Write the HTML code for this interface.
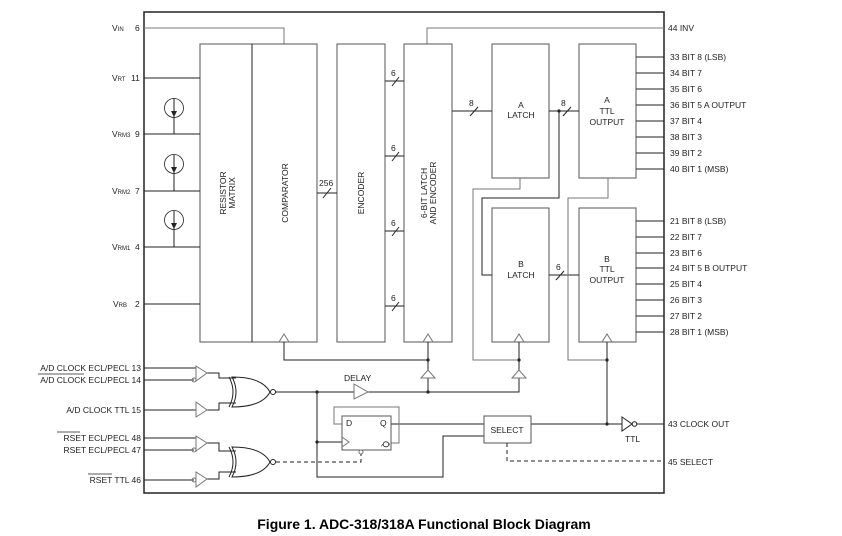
<!DOCTYPE html>
<html><head><meta charset="utf-8"><style>
html,body{margin:0;padding:0;background:#fff;}
svg{display:block;}
text{font-family:"Liberation Sans",sans-serif;font-size:8.5px;fill:#222;}
.b{stroke:#222;stroke-width:1;fill:none;}
.g{stroke:#777;stroke-width:1;fill:none;}
.bx{stroke:#555;stroke-width:1;fill:#fff;}
</style></head><body>
<svg width="842" height="536" viewBox="0 0 842 536" xmlns="http://www.w3.org/2000/svg">
<!-- outer -->
<rect x="144" y="12" width="520" height="481" fill="none" stroke="#222" stroke-width="1.5"/>
<!-- VIN / INV -->
<polyline class="g" points="144,28 284,28 284,44"/>
<polyline class="g" points="427,44 427,28 664,28"/>
<text x="112" y="31">V<tspan font-size="6">IN</tspan></text><text x="135" y="31">6</text>
<text x="668" y="31">44  INV</text>
<!-- blocks -->
<rect class="bx" x="200" y="44" width="52" height="298"/>
<rect class="bx" x="252" y="44" width="65" height="298"/>
<line class="b" x1="252" y1="44" x2="252" y2="342"/>
<rect class="bx" x="337" y="44" width="48" height="298"/>
<rect class="bx" x="404" y="44" width="48" height="298"/>
<rect class="bx" x="492" y="44" width="57" height="134"/>
<rect class="bx" x="579" y="44" width="57" height="134"/>
<rect class="bx" x="492" y="208" width="57" height="134"/>
<rect class="bx" x="579" y="208" width="57" height="134"/>
<text transform="translate(226,193) rotate(-90)" text-anchor="middle">RESISTOR</text>
<text transform="translate(235,193) rotate(-90)" text-anchor="middle">MATRIX</text>
<text transform="translate(288,193) rotate(-90)" text-anchor="middle">COMPARATOR</text>
<text transform="translate(364,193) rotate(-90)" text-anchor="middle">ENCODER</text>
<text transform="translate(427,193) rotate(-90)" text-anchor="middle">6-BIT LATCH</text>
<text transform="translate(436,193) rotate(-90)" text-anchor="middle">AND ENCODER</text>
<text x="521" y="108" text-anchor="middle">A</text><text x="521" y="118" text-anchor="middle">LATCH</text>
<text x="607" y="103" text-anchor="middle">A</text><text x="607" y="114" text-anchor="middle">TTL</text><text x="607" y="125" text-anchor="middle">OUTPUT</text>
<text x="521" y="267" text-anchor="middle">B</text><text x="521" y="278" text-anchor="middle">LATCH</text>
<text x="607" y="262" text-anchor="middle">B</text><text x="607" y="272" text-anchor="middle">TTL</text><text x="607" y="283" text-anchor="middle">OUTPUT</text>
<!-- reference lines -->
<g class="b">
<line x1="144" y1="78" x2="200" y2="78"/><line x1="144" y1="134" x2="200" y2="134"/>
<line x1="144" y1="191" x2="200" y2="191"/><line x1="144" y1="247" x2="200" y2="247"/>
<line x1="144" y1="304" x2="200" y2="304"/>
<line x1="174" y1="98" x2="174" y2="134"/><circle cx="174" cy="108" r="9.5" stroke-width="0.8"/>
<line x1="174" y1="155" x2="174" y2="191"/><circle cx="174" cy="164" r="9.5" stroke-width="0.8"/>
<line x1="174" y1="211" x2="174" y2="247"/><circle cx="174" cy="220" r="9.5" stroke-width="0.8"/>
</g>
<path d="M171,111 L177,111 L174,117Z M171,167 L177,167 L174,173Z M171,223 L177,223 L174,229Z" fill="#222"/>
<text x="112" y="81">V<tspan font-size="6">RT</tspan></text><text x="131" y="81">11</text>
<text x="112" y="137">V<tspan font-size="6">RM3</tspan></text><text x="135" y="137">9</text>
<text x="112" y="194">V<tspan font-size="6">RM2</tspan></text><text x="135" y="194">7</text>
<text x="112" y="250">V<tspan font-size="6">RM1</tspan></text><text x="135" y="250">4</text>
<text x="113" y="307">V<tspan font-size="6">RB</tspan></text><text x="135" y="307">2</text>
<!-- buses -->
<g class="b">
<line x1="317" y1="193" x2="337" y2="193"/><line x1="323" y1="198" x2="331" y2="188"/>
<line x1="385" y1="81" x2="404" y2="81"/><line x1="392" y1="86" x2="399" y2="77"/>
<line x1="385" y1="156" x2="404" y2="156"/><line x1="392" y1="161" x2="399" y2="152"/>
<line x1="385" y1="231" x2="404" y2="231"/><line x1="392" y1="236" x2="399" y2="227"/>
<line x1="385" y1="306" x2="404" y2="306"/><line x1="392" y1="311" x2="399" y2="302"/>
<line x1="452" y1="111" x2="492" y2="111"/><line x1="470" y1="116" x2="478" y2="107"/>
<line x1="549" y1="111" x2="579" y2="111"/><line x1="563" y1="116" x2="571" y2="107"/>
<line x1="549" y1="275" x2="579" y2="275"/><line x1="556" y1="280" x2="564" y2="271"/>
<polyline points="559,111 559,198 482,198 482,275 492,275"/>
</g>
<circle cx="559" cy="111" r="1.6" fill="#222"/>
<text x="319" y="186">256</text>
<text x="391" y="76">6</text><text x="391" y="151">6</text><text x="391" y="226">6</text><text x="391" y="301">6</text>
<text x="469" y="106">8</text><text x="561" y="106">8</text><text x="556" y="270">6</text>
<polyline class="g" points="520,178 520,189 473,189 473,360 519,360"/>
<polyline class="g" points="608,178 608,198 568,198 568,360 607,360"/>
<!-- outputs -->
<g class="b">
<line x1="636" y1="57" x2="664" y2="57"/><line x1="636" y1="73" x2="664" y2="73"/>
<line x1="636" y1="89" x2="664" y2="89"/><line x1="636" y1="105" x2="664" y2="105"/>
<line x1="636" y1="121" x2="664" y2="121"/><line x1="636" y1="137" x2="664" y2="137"/>
<line x1="636" y1="153" x2="664" y2="153"/><line x1="636" y1="169" x2="664" y2="169"/>
<line x1="636" y1="221" x2="664" y2="221"/><line x1="636" y1="237" x2="664" y2="237"/>
<line x1="636" y1="253" x2="664" y2="253"/><line x1="636" y1="268" x2="664" y2="268"/>
<line x1="636" y1="284" x2="664" y2="284"/><line x1="636" y1="300" x2="664" y2="300"/>
<line x1="636" y1="316" x2="664" y2="316"/><line x1="636" y1="332" x2="664" y2="332"/>
</g>
<g>
<text x="670" y="60">33 BIT 8 (LSB)</text><text x="670" y="76">34 BIT 7</text>
<text x="670" y="92">35 BIT 6</text><text x="670" y="108">36 BIT 5   A OUTPUT</text>
<text x="670" y="124">37 BIT 4</text><text x="670" y="140">38 BIT 3</text>
<text x="670" y="156">39 BIT 2</text><text x="670" y="172">40 BIT 1 (MSB)</text>
<text x="670" y="224">21 BIT 8 (LSB)</text><text x="670" y="240">22 BIT 7</text>
<text x="670" y="256">23 BIT 6</text><text x="670" y="271">24 BIT 5   B OUTPUT</text>
<text x="670" y="287">25 BIT 4</text><text x="670" y="303">26 BIT 3</text>
<text x="670" y="319">27 BIT 2</text><text x="670" y="335">28 BIT 1 (MSB)</text>
</g>
<!-- clock triangles at block bottoms -->
<g class="g">
<path d="M279,342 L284,334 L289,342"/><path d="M423,342 L428,334 L433,342"/>
<path d="M514,342 L519,334 L524,342"/><path d="M602,342 L607,334 L612,342"/>
</g>
<g class="b">
<polyline points="284,342 284,360 428,360"/>
<line x1="428" y1="342" x2="428" y2="370"/><line x1="519" y1="342" x2="519" y2="370"/>
<line x1="607" y1="342" x2="607" y2="424"/>
<line x1="428" y1="378" x2="428" y2="392"/>
<polyline points="368,392 519,392 519,378"/>
<polyline points="276,392 354,392"/>
</g>
<g class="g"><path d="M421,378 L428,370 L435,378Z"/><path d="M512,378 L519,370 L526,378Z"/>
<path d="M354,384 L368,392 L354,399Z"/></g>
<g fill="#222"><circle cx="428" cy="360" r="1.6"/><circle cx="519" cy="360" r="1.6"/><circle cx="607" cy="360" r="1.6"/>
<circle cx="428" cy="392" r="1.6"/><circle cx="317" cy="392" r="1.6"/><circle cx="317" cy="442" r="1.6"/><circle cx="607" cy="424" r="1.6"/></g>
<text x="344" y="381">DELAY</text>
<!-- inputs -->
<g class="b">
<line x1="144" y1="368" x2="196" y2="368"/><line x1="144" y1="380" x2="194" y2="380"/>
<line x1="144" y1="410" x2="196" y2="410"/>
<line x1="144" y1="438" x2="196" y2="438"/><line x1="144" y1="450" x2="194" y2="450"/>
<line x1="144" y1="480" x2="194" y2="480"/>
<polyline points="207,373 219,373 219,378 236,378"/><polyline points="207,410 219,410 219,403 236,403"/>
<polyline points="207,443 219,443 219,451 236,451"/><polyline points="207,479 219,479 219,472 236,472"/>
<path d="M232,377 Q262,377 270,392 Q262,407 232,407 Q240,392 232,377Z"/>
<path d="M229,377 Q237,392 229,407"/>
<path d="M232,447 Q262,447 270,462 Q262,477 232,477 Q240,462 232,447Z"/>
<path d="M229,447 Q237,462 229,477"/>
<circle cx="273" cy="392" r="2.5"/><circle cx="273" cy="462" r="2.5"/>
<polyline points="317,392 317,477 443,477 443,436 484,436"/>
<line x1="317" y1="442" x2="342" y2="442"/>
<line x1="391" y1="424" x2="484" y2="424"/>
<line x1="531" y1="424" x2="622" y2="424"/>
<line x1="637" y1="424" x2="664" y2="424"/>
<circle cx="634.5" cy="424" r="2.3"/>
</g>
<g class="g">
<path d="M196,366 L207,373 L196,381Z"/><path d="M196,402 L207,410 L196,417Z"/>
<path d="M196,436 L207,443 L196,451Z"/><path d="M196,472 L207,479 L196,487Z"/>
<circle cx="194" cy="380" r="2"/><circle cx="194" cy="450" r="2"/><circle cx="194" cy="480" r="2"/>
<path d="M622,417 L632,424 L622,431Z" stroke="#222"/>
<polyline points="391,443 399,443 399,407 334,407 334,424 342,424"/>
<rect x="342" y="416" width="49" height="34" fill="none" stroke="#555"/>
<path d="M342,437 L349,442 L342,447"/>
<circle cx="361" cy="452" r="2"/>
<rect x="484" y="416" width="47" height="27" fill="none" stroke="#555"/>
</g>
<g class="b" stroke-dasharray="4,3">
<polyline points="276,462 361,462 361,454"/>
<polyline points="507,443 507,461 664,461"/>
</g>
<text x="346" y="426">D</text><text x="380" y="426">Q</text>
<text transform="translate(383,441) rotate(90)" font-size="7">Q̄</text>
<text x="507" y="433" text-anchor="middle">SELECT</text>
<text x="625" y="442">TTL</text>
<text x="668" y="427">43 CLOCK OUT</text>
<text x="668" y="465">45 SELECT</text>
<text x="141" y="371" text-anchor="end">A/D CLOCK ECL/PECL 13</text>
<text x="141" y="383" text-anchor="end">A/D CLOCK ECL/PECL 14</text>
<line x1="38" y1="374" x2="84" y2="374" stroke="#222" stroke-width="0.7"/>
<text x="141" y="413" text-anchor="end">A/D CLOCK TTL 15</text>
<text x="141" y="441" text-anchor="end">RSET ECL/PECL   48</text>
<line x1="57" y1="432" x2="80" y2="432" stroke="#222" stroke-width="0.7"/>
<text x="141" y="453" text-anchor="end">RSET ECL/PECL   47</text>
<text x="141" y="483" text-anchor="end">RSET TTL 46</text>
<line x1="88" y1="474" x2="112" y2="474" stroke="#222" stroke-width="0.7"/>
<text x="424" y="529" text-anchor="middle" style="font-size:14px;font-weight:bold;fill:#000">Figure 1. ADC-318/318A Functional Block Diagram</text>
</svg>
</body></html>
